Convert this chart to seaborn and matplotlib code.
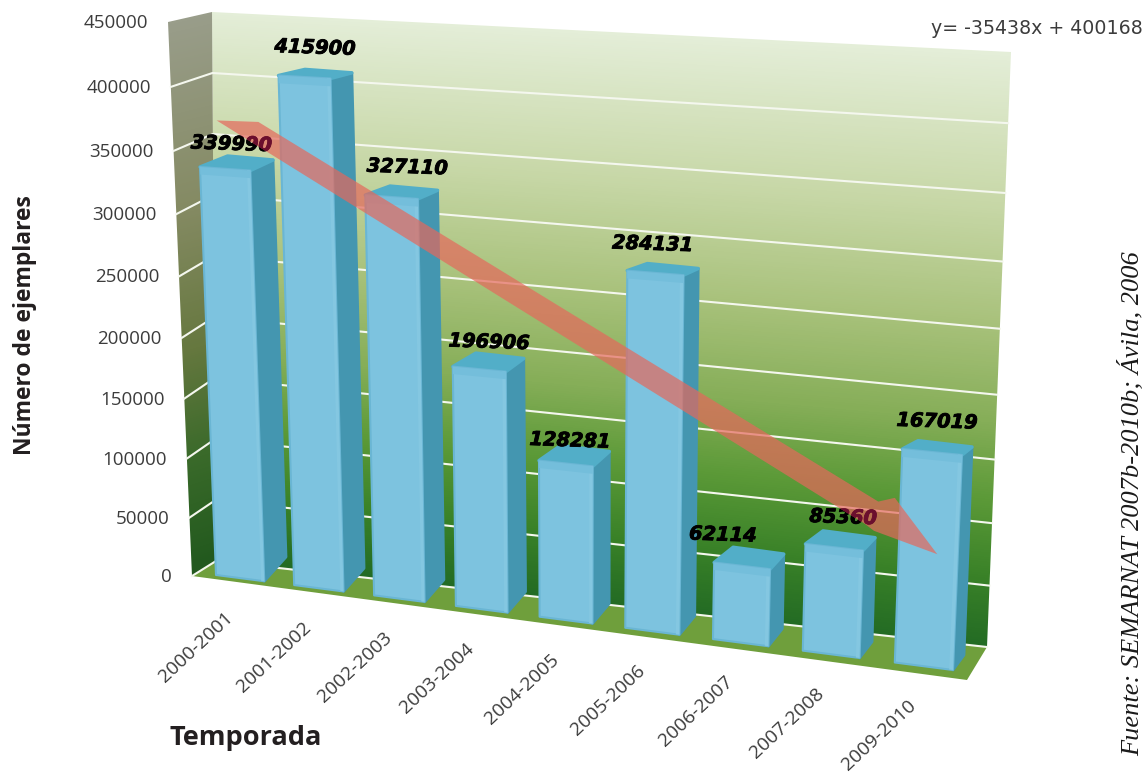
import numpy as np
import pandas as pd
import seaborn as sns
import matplotlib.pyplot as plt
import matplotlib.patheffects as pe
import matplotlib.transforms as mtransforms
from matplotlib.colors import LinearSegmentedColormap
from matplotlib.patches import Polygon

temporadas = ['2000-2001', '2001-2002', '2002-2003', '2003-2004', '2004-2005',
              '2005-2006', '2006-2007', '2007-2008', '2009-2010']
ejemplares = [339990, 415900, 327110, 196906, 128281, 284131, 62114, 85360, 167019]
grid_values = [0, 50000, 100000, 150000, 200000, 250000, 300000, 350000, 400000, 450000]
slope = -35438
intercept = 400168

W = 0.62  # bar width in category units
V_MAX = 450000.0

# wall outline in pixels, the picture is a fake 3d chart
wall_bl, wall_tl = (216, 561), (212, 12)
wall_br, wall_tr = (987, 647), (1011, 52)
side_bl, side_tl = (192, 576), (168, 22)
floor_fr = (967, 680)

# hand nudges for the value labels, in pixels
label_nudge = [(-1, 5), (4, -2), (10, -1), (5, 4), (0, 9), (-6, -1), (-22, 1), (7, 1), (4, -2)]


def fit_h(src, dst):
    A, b = [], []
    for (x, v), (u, w) in zip(src, dst):
        v = v / 1e5
        A.append([x, v, 1, 0, 0, 0, -u * x, -u * v])
        A.append([0, 0, 0, x, v, 1, -w * x, -w * v])
        b += [u, w]
    return np.append(np.linalg.solve(np.array(A, float), np.array(b, float)), 1).reshape(3, 3)


def project(H, x, v):
    x, v = np.asarray(x, float), np.asarray(v, float) / 1e5
    d = H[2, 0] * x + H[2, 1] * v + H[2, 2]
    return (H[0, 0] * x + H[0, 1] * v + H[0, 2]) / d, (H[1, 0] * x + H[1, 1] * v + H[1, 2]) / d


class Perspective(mtransforms.Transform):
    input_dims = output_dims = 2
    is_separable = False
    has_inverse = False

    def __init__(self, H):
        super().__init__()
        self.H = H

    def transform_non_affine(self, values):
        values = np.asarray(values, float)
        px, py = project(self.H, values[:, 0], values[:, 1])
        return np.column_stack([px, py])


front_h = fit_h([(-W / 2, 0), (-W / 2, 339990), (8 + W / 2, 0), (8 + W / 2, 167019)],
                [(216, 575), (200, 167), (953, 670), (962, 455)])
back_h = fit_h([(W / 2, 0), (W / 2, 339990), (8 + W / 2, 0), (8 + W / 2, 167019)],
               [(286, 557), (273, 160), (964, 655), (972, 447)])


def edge_point(p0, p1, value, c=0.0):
    t = value / V_MAX
    t = t * (1 + c) / (1 + c * t)
    return p0[0] + (p1[0] - p0[0]) * t, p0[1] + (p1[1] - p0[1]) * t


def mid_point(x, v):
    fx, fy = project(front_h, x, v)
    bx, by = project(back_h, x, v)
    return (fx + bx) / 2, (fy + by) / 2


fig = plt.figure(figsize=(11.47, 7.75), dpi=100)
ax = fig.add_axes([0, 0, 1, 1])

# gradients for the two walls
yy, xx = np.mgrid[0:775, 0:1147]
s = (xx - wall_bl[0]) / (wall_br[0] - wall_bl[0])
top = wall_tl[1] + s * (wall_tr[1] - wall_tl[1])
bot = wall_bl[1] + s * (wall_br[1] - wall_bl[1])
wall_cmap = LinearSegmentedColormap.from_list('wall', [
    (0.0, '#236b24'), (0.12, '#3a8228'), (0.25, '#5c9a38'), (0.38, '#86ae58'),
    (0.55, '#a9c27c'), (0.75, '#c8d8a8'), (1.0, '#e4eed8')])
im = ax.imshow(np.clip((bot - yy) / (bot - top), 0, 1), cmap=wall_cmap, vmin=0, vmax=1,
               extent=(0, 1147, 775, 0), zorder=1)
wall_poly = Polygon([wall_bl, wall_tl, wall_tr, wall_br], transform=ax.transData, fc='none', ec='none')
ax.add_patch(wall_poly)
im.set_clip_path(wall_poly)

s2 = (xx - side_tl[0]) / (wall_tl[0] - side_tl[0])
top2 = side_tl[1] + s2 * (wall_tl[1] - side_tl[1])
bot2 = side_bl[1] + s2 * (wall_bl[1] - side_bl[1])
side_cmap = LinearSegmentedColormap.from_list('side', [
    (0.0, '#22591e'), (0.2, '#3a6a2a'), (0.4, '#66783f'), (0.65, '#848a62'), (1.0, '#999d8a')])
im2 = ax.imshow(np.clip((bot2 - yy) / (bot2 - top2), 0, 1), cmap=side_cmap, vmin=0, vmax=1,
                extent=(0, 1147, 775, 0), zorder=1)
side_poly = Polygon([side_bl, side_tl, wall_tl, wall_bl], transform=ax.transData, fc='none', ec='none')
ax.add_patch(side_poly)
im2.set_clip_path(side_poly)

ax.fill(*zip(wall_bl, wall_br, floor_fr, side_bl), color='#6f9f3c', zorder=2, lw=0)

# grid on the walls
for g in grid_values:
    pa = edge_point(side_bl, side_tl, g, -0.058)
    pb = edge_point(wall_bl, wall_tl, g)
    pc = edge_point(wall_br, wall_tr, g, -0.08)
    if g < V_MAX:
        ax.plot(*zip(pa, pb, pc), color='#f4f7ee', lw=1.5, zorder=3)
    ax.text(pa[0] - 20, pa[1] + 1, str(g), ha='right', va='center', fontsize=13.5,
            family='Open Sans', color='#3c3c3c', zorder=9)

# bars, side and top faces are worked out from the same values
df = pd.DataFrame({'temporada': temporadas, 'ejemplares': ejemplares})
for i, v in enumerate(ejemplares):
    fr = project(front_h, i + W / 2, [0, v])
    ba = project(back_h, i + W / 2, [0, v])
    ax.fill([fr[0][0], fr[0][1], ba[0][1], ba[0][0]], [fr[1][0], fr[1][1], ba[1][1], ba[1][0]],
            color='#4496b0', ec='#4496b0', lw=2, joinstyle='round', zorder=4)
    fl = project(front_h, i - W / 2, v)
    bl = project(back_h, i - W / 2 + 0.05, v)
    br = project(back_h, i + W / 2, v)
    frt = project(front_h, i + W / 2, v)
    ax.fill([fl[0], bl[0], br[0], frt[0]], [fl[1], bl[1], br[1], frt[1]],
            color='#52aec8', ec='#52aec8', lw=2.5, joinstyle='round', zorder=4)

sns.barplot(data=df, x='temporada', y='ejemplares', color='#7dc3df', saturation=1, width=W,
            errorbar=None, ax=ax, transform=Perspective(front_h) + ax.transData,
            edgecolor='#6ab6d4', linewidth=1.5, joinstyle='round', zorder=5)

# soft bevel on the front faces
for i, v in enumerate(ejemplares):
    xa, xb = i + W / 2 - 0.04, i + W / 2
    px, py = project(front_h, [xa, xb, xb, xa], [0, 0, v, v])
    ax.fill(px, py, color='#84c7e1', lw=0, zorder=6)
    dv = 6000
    px, py = project(front_h, [i - W / 2, i + W / 2, i + W / 2, i - W / 2], [v - dv, v - dv, v, v])
    ax.fill(px, py, color='#74bedb', lw=0, zorder=6)

# value labels
heavy = [pe.withStroke(linewidth=0.6, foreground='black')]
labels_xy = []
for i, v in enumerate(ejemplares):
    px, py = mid_point(i, v)
    lx, ly = px - 4 + label_nudge[i][0], py - 24 + label_nudge[i][1]
    labels_xy.append((lx, ly))
    ax.text(lx, ly, str(v), ha='center', va='center', fontsize=14, fontweight='bold',
            style='italic', rotation=-2, family='DejaVu Sans', color='black', zorder=7,
            path_effects=heavy)

# trend arrow from the fitted line
sx, sy = mid_point(0, slope * 0.5 + intercept)
tx, ty = mid_point(8, slope * 9 + intercept)
tx, ty = tx + 4, ty - 3
u = np.array([tx - sx, ty - sy]) / np.hypot(tx - sx, ty - sy)
n = np.array([-u[1], u[0]])
s_pt, t_pt = np.array([sx, sy]), np.array([tx, ty])
arrow_pts = [s_pt - 3 * n + 26 * u, t_pt - 78 * u - 13 * n, t_pt - 66 * u - 25 * n, t_pt,
             t_pt - 66 * u + 14 * n, t_pt - 78 * u + 13 * n, s_pt + 18 * n - 10 * u]
arrow = Polygon(arrow_pts, closed=True, fc='#e5685c', ec='none', alpha=0.7, zorder=8)
ax.add_patch(arrow)
# the part of a label under the arrow turns maroon, drawn as a path so the clip works
for (lx, ly), v in zip(labels_xy, ejemplares):
    t = ax.text(lx, ly, str(v), ha='center', va='center', fontsize=14, fontweight='bold',
                style='italic', rotation=-2, family='DejaVu Sans', color='#6b0f2e', zorder=9,
                clip_on=True, path_effects=[pe.withStroke(linewidth=0.6, foreground='#6b0f2e')])
    t.set_clip_path(arrow)

# category labels
for i, lab in enumerate(temporadas):
    px, py = project(front_h, i, 0)
    ax.text(px - 10, py + 37, lab, rotation=43, rotation_mode='anchor', ha='right', va='center',
            fontsize=13.8, family='Open Sans', color='#3c3c3c', zorder=9)

ax.text(25, 325, 'Número de ejemplares', rotation=90, ha='center', va='center', fontsize=16.5,
        fontweight='bold', family='Open Sans', color='#231f20')
ax.text(170, 738, 'Temporada', ha='left', va='center', fontsize=19.5, fontweight='bold',
        family='Open Sans', color='#231f20')
ax.text(1143, 29, 'y= -35438x + 400168', ha='right', va='center', fontsize=13.7,
        family='DejaVu Sans', color='#3c3c3c')
ax.text(1131, 504, 'Fuente: SEMARNAT 2007b-2010b; Ávila, 2006', rotation=90, ha='center', va='center',
        fontsize=19, style='italic', family='Liberation Serif', color='#1a1a1a')

ax.set_xlim(0, 1147)
ax.set_ylim(775, 0)
ax.set_aspect('auto')
ax.axis('off')
plt.savefig('out.png', dpi=100)
